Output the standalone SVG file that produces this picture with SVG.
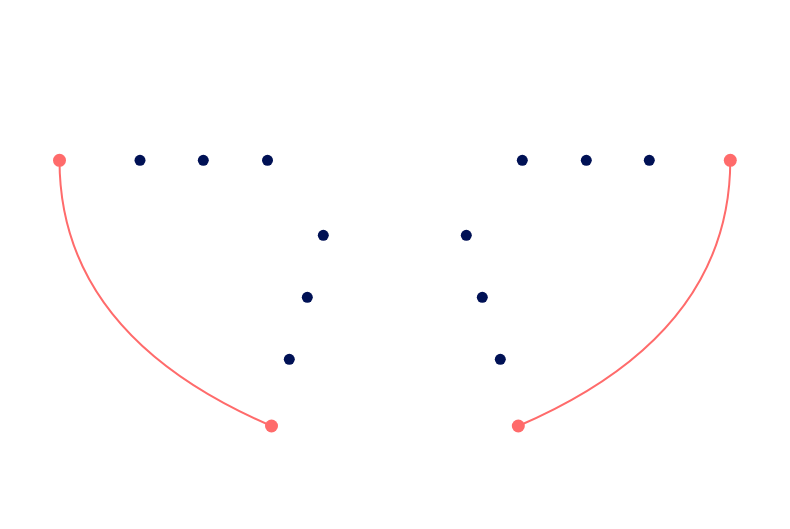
<svg xmlns="http://www.w3.org/2000/svg" width="790" height="529" viewBox="0 0 790 529">
<style>
.link{fill:none;stroke:#ff6b6b;stroke-width:2}
.end{fill:#ff6b6b}
.pt{fill:#001155}
</style>
<rect width="790" height="529" fill="#ffffff"/>
<g id="connectors">
<path class="link" d="M59.5,160 Q59.5,335 271.5,426"/>
<path class="link" d="M730.3,160 Q730.3,335 518.3,426"/>
</g>
<g id="red-tl"><circle class="end" cx="59.5" cy="160.3" r="6.5"/></g>
<g id="red-tr"><circle class="end" cx="730.3" cy="160.3" r="6.5"/></g>
<g id="red-bl"><circle class="end" cx="271.5" cy="426" r="6.5"/></g>
<g id="red-br"><circle class="end" cx="518.3" cy="426" r="6.5"/></g>
<g id="d1"><circle class="pt" cx="140" cy="160.3" r="5.5"/></g>
<g id="d2"><circle class="pt" cx="203.3" cy="160.3" r="5.5"/></g>
<g id="d3"><circle class="pt" cx="267.5" cy="160.3" r="5.5"/></g>
<g id="d4"><circle class="pt" cx="522.3" cy="160.3" r="5.5"/></g>
<g id="d5"><circle class="pt" cx="586.3" cy="160.3" r="5.5"/></g>
<g id="d6"><circle class="pt" cx="649.3" cy="160.3" r="5.5"/></g>
<g id="d7"><circle class="pt" cx="323.3" cy="235.3" r="5.5"/></g>
<g id="d8"><circle class="pt" cx="307.3" cy="297.3" r="5.5"/></g>
<g id="d9"><circle class="pt" cx="289.3" cy="359.3" r="5.5"/></g>
<g id="d10"><circle class="pt" cx="466.3" cy="235.3" r="5.5"/></g>
<g id="d11"><circle class="pt" cx="482.3" cy="297.3" r="5.5"/></g>
<g id="d12"><circle class="pt" cx="500.3" cy="359.3" r="5.5"/></g>
</svg>
